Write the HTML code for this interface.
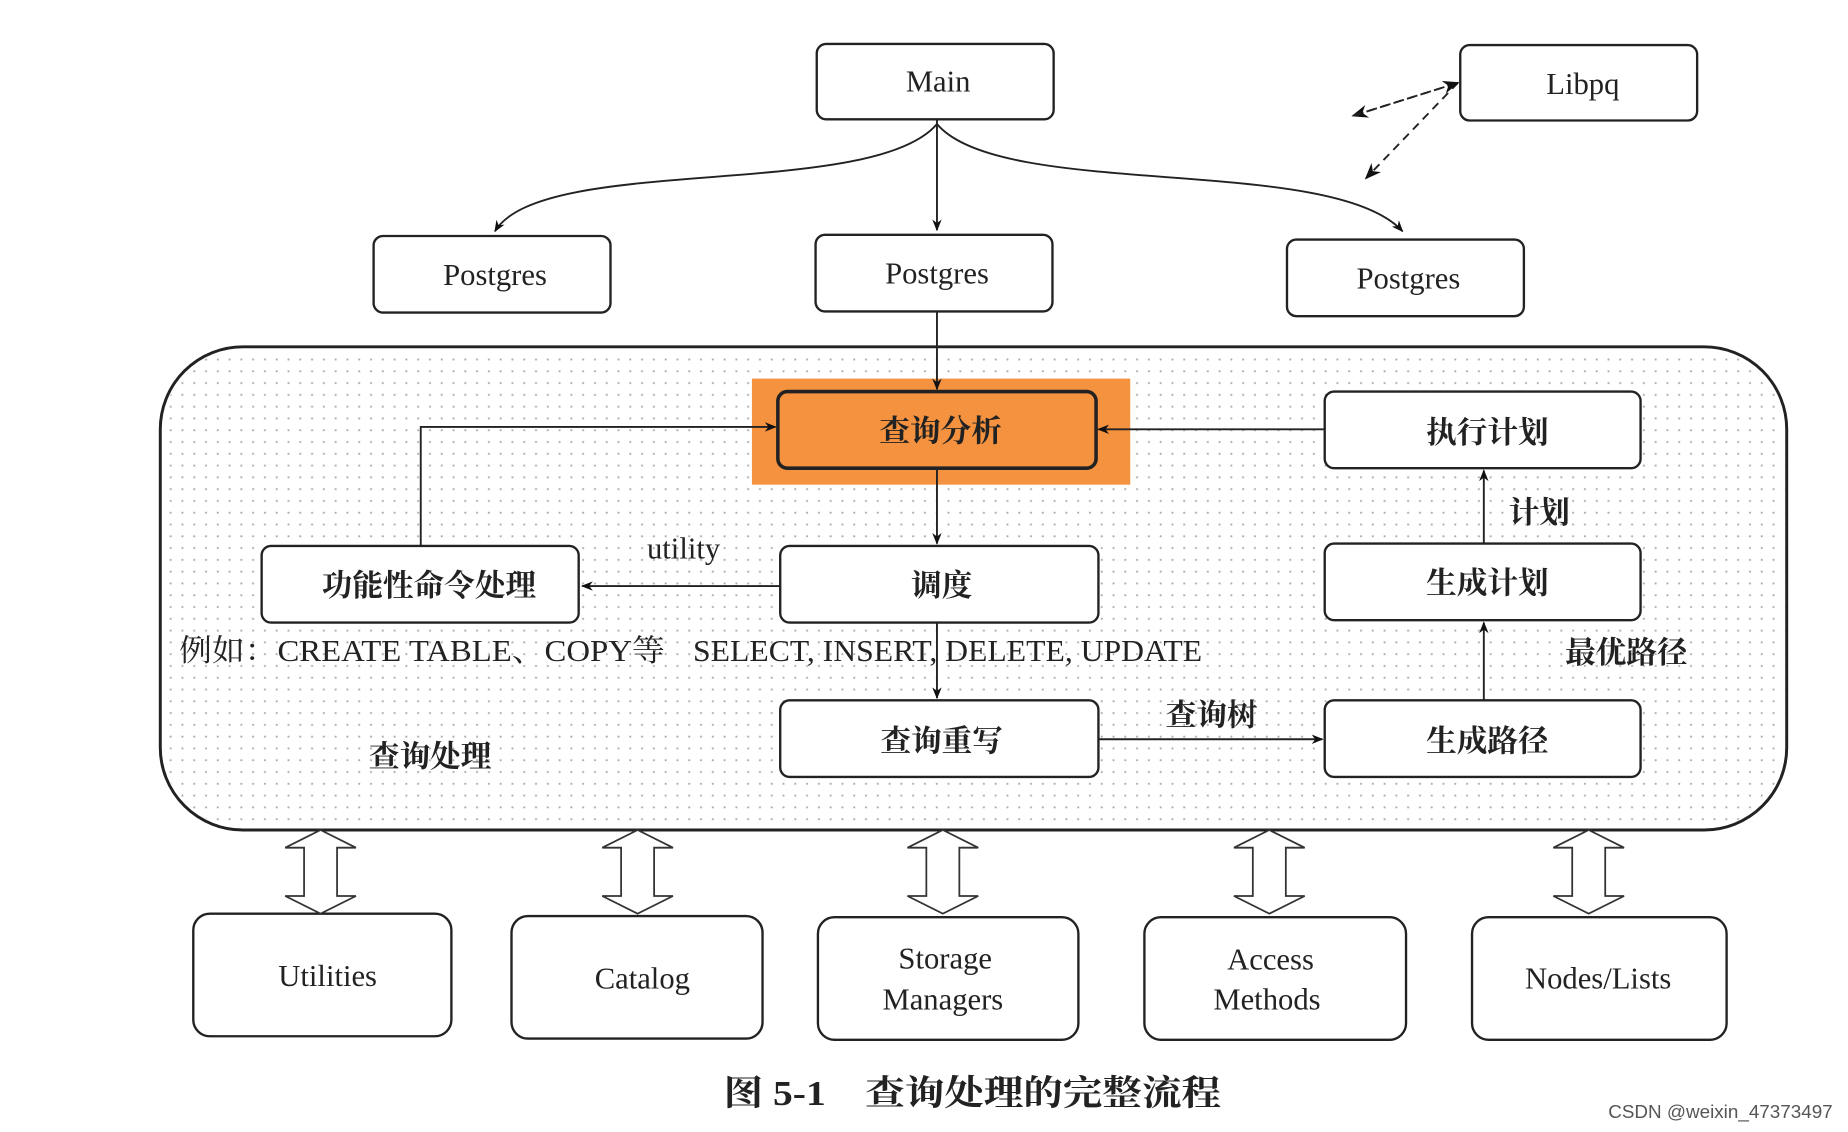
<!DOCTYPE html>
<html><head><meta charset="utf-8"><style>html,body{margin:0;padding:0;background:#fff}svg{display:block}</style></head>
<body>
<svg width="1848" height="1132" viewBox="0 0 1568 960" xmlns="http://www.w3.org/2000/svg" font-family="'Liberation Serif','Noto Serif CJK SC',serif">
<defs>
<pattern id="dots" width="10" height="10" patternUnits="userSpaceOnUse"><rect x="4" y="4" width="1.6" height="1.6" fill="#aaa"/></pattern>
<marker id="ar" viewBox="0 0 10 10" refX="9" refY="5" markerWidth="10" markerHeight="10" markerUnits="userSpaceOnUse" orient="auto"><path d="M0,1 L10,5 L0,9 L3,5z" fill="#111"/></marker>
<marker id="ar2" viewBox="0 0 10 10" refX="9" refY="5" markerWidth="14" markerHeight="14" markerUnits="userSpaceOnUse" orient="auto"><path d="M0,1 L10,5 L0,9 L3,5z" fill="#111"/></marker>
</defs>
<rect x="136" y="294" width="1380" height="410" rx="70" fill="#fff" stroke="#222" stroke-width="2.5"/>
<rect x="138" y="296" width="1376" height="406" rx="68" fill="url(#dots)"/>
<rect x="638" y="321" width="321" height="90" fill="#f4923f"/>
<g stroke="#222" stroke-width="2" fill="#fff">
<rect x="693" y="37" width="201" height="64" rx="8"/>
<rect x="1239" y="38" width="201" height="64" rx="8"/>
<rect x="317" y="200" width="201" height="65" rx="8"/>
<rect x="692" y="199" width="201" height="65" rx="8"/>
<rect x="1092" y="203" width="201" height="65" rx="8"/>
<rect x="660" y="332" width="270" height="65" rx="8" fill="#f4923f" stroke-width="3"/>
<rect x="1124" y="332" width="268" height="65" rx="8"/>
<rect x="222" y="463" width="269" height="65" rx="8"/>
<rect x="662" y="463" width="270" height="65" rx="8"/>
<rect x="1124" y="461" width="268" height="65" rx="8"/>
<rect x="662" y="594" width="270" height="65" rx="8"/>
<rect x="1124" y="594" width="268" height="65" rx="8"/>
<rect x="164" y="775" width="219" height="104" rx="14"/>
<rect x="434" y="777" width="213" height="104" rx="14"/>
<rect x="694" y="778" width="221" height="104" rx="14"/>
<rect x="971" y="778" width="222" height="104" rx="14"/>
<rect x="1249" y="778" width="216" height="104" rx="14"/>
</g>
<g stroke="#222" stroke-width="1.6" fill="none">
<path d="M795,101 V195" marker-end="url(#ar)"/>
<path d="M795,105 C740,170 460,130 420,196" marker-end="url(#ar)"/>
<path d="M795,105 C850,170 1130,130 1190,196" marker-end="url(#ar)"/>
<path d="M795,264 V330" marker-end="url(#ar)"/>
<path d="M795,397 V461" marker-end="url(#ar)"/>
<path d="M795,528 V592" marker-end="url(#ar)"/>
<path d="M662,497 H494" marker-end="url(#ar)"/>
<path d="M357,463 V362 H658" marker-end="url(#ar)"/>
<path d="M1124,364 H932" marker-end="url(#ar)"/>
<path d="M1259,461 V399" marker-end="url(#ar)"/>
<path d="M1259,594 V528" marker-end="url(#ar)"/>
<path d="M932,627 H1122" marker-end="url(#ar)"/>
<path d="M1237,70 L1148,98" stroke-dasharray="7,5" marker-end="url(#ar2)"/>
<path d="M1237,70 L1159,151" stroke-dasharray="7,5" marker-end="url(#ar2)"/>
<path d="M1148,98 L1237,70" stroke-dasharray="7,5" marker-end="url(#ar2)"/>
</g>
<g stroke="#333" stroke-width="1.5" fill="#fff">
<path transform="translate(272,0)" d="M0,704 L30,719 L14,719 L14,760 L30,760 L0,775 L-30,760 L-14,760 L-14,719 L-30,719 Z"/>
<path transform="translate(541,0)" d="M0,704 L30,719 L14,719 L14,760 L30,760 L0,775 L-30,760 L-14,760 L-14,719 L-30,719 Z"/>
<path transform="translate(800,0)" d="M0,704 L30,719 L14,719 L14,760 L30,760 L0,775 L-30,760 L-14,760 L-14,719 L-30,719 Z"/>
<path transform="translate(1077,0)" d="M0,704 L30,719 L14,719 L14,760 L30,760 L0,775 L-30,760 L-14,760 L-14,719 L-30,719 Z"/>
<path transform="translate(1348,0)" d="M0,704 L30,719 L14,719 L14,760 L30,760 L0,775 L-30,760 L-14,760 L-14,719 L-30,719 Z"/>
</g>
<g fill="#222" font-size="26" text-anchor="middle" dominant-baseline="central">
<text x="796" y="69">Main</text>
<text x="1343" y="71">Libpq</text>
<text x="420" y="233">Postgres</text>
<text x="795" y="232">Postgres</text>
<text x="1195" y="236">Postgres</text>
<text x="798" y="366" font-weight="bold">查询分析</text>
<text x="1262" y="367" font-weight="bold">执行计划</text>
<text x="364" y="497" font-weight="bold">功能性命令处理</text>
<text x="799" y="497" font-weight="bold">调度</text>
<text x="1262" y="495" font-weight="bold">生成计划</text>
<text x="799" y="629" font-weight="bold">查询重写</text>
<text x="1262" y="629" font-weight="bold">生成路径</text>
<text x="580" y="465">utility</text>
<text x="1306" y="435" font-weight="bold">计划</text>
<text x="1380" y="554" font-weight="bold">最优路径</text>
<text x="1028" y="607" font-weight="bold">查询树</text>
<text x="365" y="642" font-weight="bold">查询处理</text>
<text x="278" y="828">Utilities</text>
<text x="545" y="830">Catalog</text>
<text x="802" y="813">Storage</text>
<text x="800" y="848">Managers</text>
<text x="1078" y="814">Access</text>
<text x="1075" y="848">Methods</text>
<text x="1356" y="830">Nodes/Lists</text>
</g>
<g fill="#222" font-size="26" dominant-baseline="central">
<text x="152" y="552" textLength="412" lengthAdjust="spacingAndGlyphs">例如：CREATE TABLE、COPY等</text>
<text x="588" y="552" textLength="432" lengthAdjust="spacingAndGlyphs">SELECT, INSERT, DELETE, UPDATE</text>
<text x="614" y="927" font-size="30" font-weight="bold" textLength="422" lengthAdjust="spacingAndGlyphs">图 5-1　查询处理的完整流程</text>
</g>
<text x="1555" y="943" font-size="16" fill="#555" text-anchor="end" font-family="'Liberation Sans',sans-serif" dominant-baseline="central">CSDN @weixin_47373497</text>
</svg>
</body></html>
